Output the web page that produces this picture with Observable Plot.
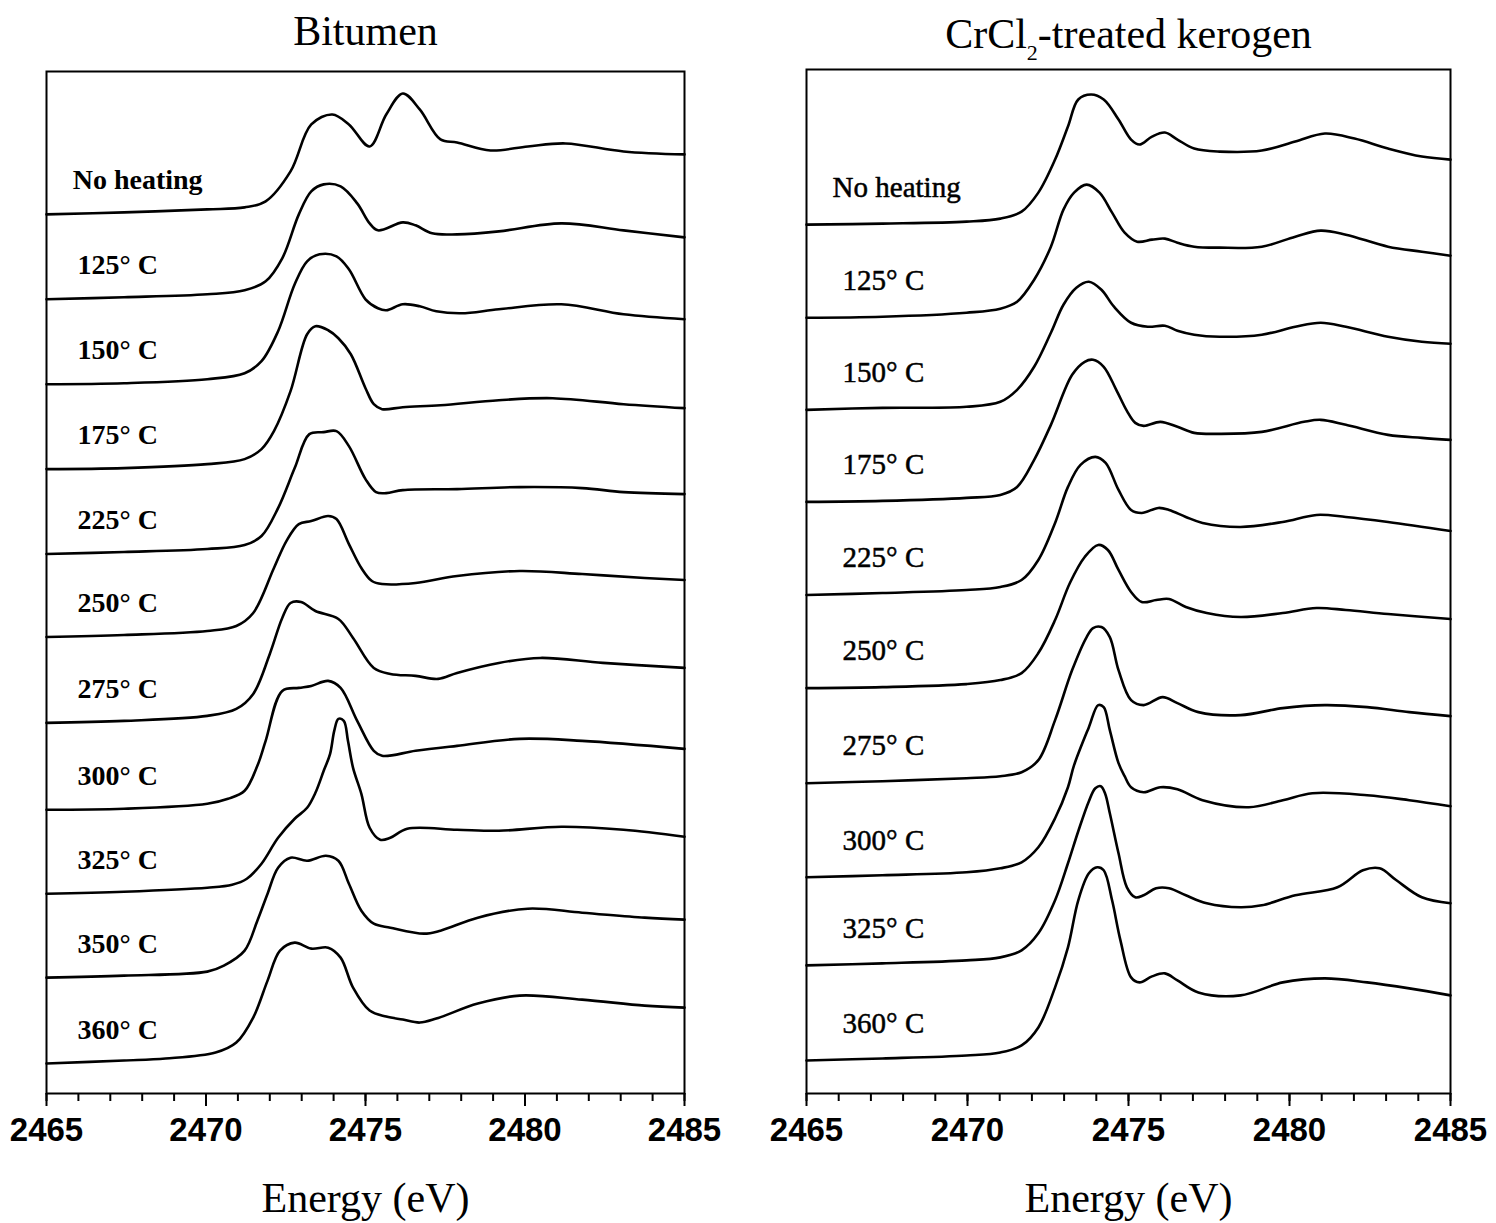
<!DOCTYPE html>
<html><head><meta charset="utf-8">
<script src="https://cdn.jsdelivr.net/npm/d3@7"></script>
<script src="https://cdn.jsdelivr.net/npm/@observablehq/plot@0.6"></script>
<style>body{margin:0;background:#fff}#chart{display:flex;width:1496px;height:1223px}</style>
</head><body><div id="chart"></div>
<script>
// ---- axis ticks ----
const energyMajorTicks = [2465, 2470, 2475, 2480, 2485];
const energyMinorTicks = [2465,2466,2467,2468,2469,2470,2471,2472,2473,2474,2475,2476,2477,2478,2479,2480,2481,2482,2483,2484,2485];

// ---- Bitumen (stacked normalized absorbance, [energy eV, value]) ----
const bitumenLabels = ["No heating","125° C","150° C","175° C","225° C","250° C","275° C","300° C","325° C","350° C","360° C"];
const bitNoHeat = [[2465.00,8.80],[2467.43,8.82],[2470.04,8.85],[2471.21,8.87],[2471.87,8.93],[2472.65,9.23],[2473.30,9.70],[2473.96,9.80],[2474.48,9.70],[2475.13,9.48],[2475.65,9.80],[2476.17,10.01],[2476.70,9.85],[2477.35,9.55],[2477.87,9.52],[2478.92,9.44],[2480.09,9.48],[2481.27,9.51],[2483.09,9.43],[2485.00,9.40]];
const bit125 = [[2465.00,7.95],[2467.43,7.97],[2470.04,8.00],[2471.21,8.04],[2471.87,8.13],[2472.39,8.36],[2472.91,8.80],[2473.30,9.03],[2473.69,9.10],[2474.22,9.08],[2474.74,8.91],[2475.13,8.71],[2475.39,8.64],[2476.17,8.72],[2476.57,8.69],[2477.09,8.61],[2477.87,8.60],[2479.18,8.63],[2481.14,8.71],[2483.09,8.64],[2485.00,8.57]];
const bit150 = [[2465.00,7.10],[2467.43,7.11],[2470.04,7.15],[2471.21,7.21],[2471.74,7.33],[2472.26,7.63],[2472.78,8.10],[2473.17,8.33],[2473.56,8.40],[2474.09,8.38],[2474.48,8.25],[2475.00,7.95],[2475.39,7.86],[2475.65,7.84],[2476.17,7.90],[2476.70,7.88],[2477.22,7.83],[2478.00,7.81],[2479.18,7.85],[2481.14,7.90],[2483.09,7.80],[2485.00,7.75]];
const bit175 = [[2465.00,6.25],[2467.43,6.26],[2470.04,6.30],[2471.21,6.35],[2471.74,6.45],[2472.13,6.63],[2472.65,7.03],[2473.17,7.60],[2473.43,7.68],[2473.83,7.64],[2474.15,7.56],[2474.54,7.40],[2475.00,7.06],[2475.26,6.90],[2475.52,6.85],[2476.17,6.87],[2477.35,6.89],[2479.18,6.94],[2480.87,6.96],[2483.09,6.90],[2485.00,6.86]];
const bit225 = [[2465.00,5.40],[2467.43,5.42],[2470.04,5.45],[2471.21,5.49],[2471.74,5.58],[2472.26,5.86],[2472.78,6.26],[2473.24,6.60],[2473.69,6.62],[2474.09,6.63],[2474.48,6.48],[2475.00,6.15],[2475.33,6.02],[2475.65,6.01],[2476.17,6.04],[2477.87,6.05],[2479.83,6.07],[2481.79,6.06],[2483.09,6.02],[2485.00,6.00]];
const bit250 = [[2465.00,4.57],[2467.43,4.59],[2470.04,4.63],[2470.95,4.68],[2471.48,4.81],[2472.13,5.26],[2472.52,5.53],[2472.91,5.70],[2473.30,5.73],[2473.83,5.78],[2474.09,5.75],[2474.48,5.50],[2474.87,5.26],[2475.20,5.13],[2475.52,5.10],[2476.57,5.11],[2477.87,5.18],[2479.83,5.23],[2481.79,5.20],[2483.75,5.16],[2485.00,5.14]];
const bit275 = [[2465.00,3.71],[2467.43,3.73],[2470.04,3.78],[2470.95,3.85],[2471.48,4.00],[2472.00,4.40],[2472.39,4.76],[2472.65,4.91],[2472.98,4.92],[2473.43,4.83],[2474.15,4.75],[2474.61,4.56],[2475.26,4.26],[2475.78,4.20],[2476.57,4.18],[2477.28,4.15],[2477.87,4.21],[2479.18,4.31],[2480.48,4.36],[2482.44,4.31],[2485.00,4.26]];
const bit300 = [[2465.00,2.84],[2467.43,2.85],[2470.04,2.90],[2470.69,2.95],[2471.21,3.03],[2471.61,3.28],[2471.87,3.53],[2472.39,4.03],[2472.91,4.06],[2473.30,4.08],[2473.83,4.13],[2474.22,4.06],[2474.74,3.73],[2475.26,3.43],[2475.52,3.38],[2476.57,3.43],[2477.87,3.48],[2479.83,3.55],[2481.79,3.53],[2485.00,3.45]];
const bit325 = [[2465.00,2.00],[2467.43,2.02],[2470.04,2.06],[2470.82,2.09],[2471.28,2.15],[2471.74,2.30],[2472.26,2.56],[2472.78,2.75],[2473.17,2.86],[2473.43,3.01],[2473.69,3.23],[2473.89,3.40],[2474.02,3.63],[2474.15,3.75],[2474.32,3.73],[2474.45,3.53],[2474.61,3.26],[2474.87,3.00],[2475.13,2.66],[2475.46,2.54],[2475.78,2.56],[2476.31,2.65],[2477.87,2.64],[2479.18,2.63],[2481.14,2.67],[2483.09,2.64],[2485.00,2.57]];
const bit350 = [[2465.00,1.16],[2467.43,1.18],[2470.04,1.22],[2470.56,1.28],[2471.21,1.43],[2471.61,1.73],[2471.93,2.00],[2472.26,2.26],[2472.65,2.36],[2473.17,2.33],[2473.76,2.38],[2474.15,2.33],[2474.48,2.10],[2474.87,1.83],[2475.26,1.70],[2475.78,1.66],[2476.83,1.60],[2477.35,1.63],[2478.52,1.76],[2480.09,1.85],[2481.79,1.81],[2483.75,1.76],[2485.00,1.74]];
const bit360 = [[2465.00,0.30],[2467.43,0.33],[2468.73,0.35],[2470.30,0.41],[2470.95,0.51],[2471.48,0.76],[2471.93,1.13],[2472.32,1.43],[2472.78,1.51],[2473.30,1.45],[2473.83,1.46],[2474.22,1.36],[2474.61,1.06],[2475.13,0.83],[2475.65,0.77],[2476.17,0.74],[2476.70,0.71],[2477.22,0.75],[2478.52,0.90],[2479.83,0.98],[2481.79,0.94],[2483.75,0.88],[2485.00,0.86]];

// ---- CrCl2-treated kerogen ----
const kerogenLabels = ["No heating","125° C","150° C","175° C","225° C","250° C","275° C","300° C","325° C","360° C"];
const kerNoHeat = [[2465.00,8.68],[2467.36,8.69],[2469.97,8.71],[2471.02,8.74],[2471.68,8.81],[2472.20,9.00],[2472.72,9.33],[2473.12,9.66],[2473.44,9.93],[2473.84,9.98],[2474.23,9.93],[2474.69,9.73],[2475.08,9.53],[2475.34,9.48],[2475.73,9.56],[2476.13,9.60],[2476.52,9.53],[2477.04,9.44],[2477.83,9.41],[2479.14,9.42],[2480.18,9.51],[2481.10,9.59],[2482.02,9.54],[2483.06,9.44],[2484.11,9.36],[2485.00,9.33]];
const ker125 = [[2465.00,7.75],[2467.36,7.76],[2469.97,7.80],[2471.02,7.84],[2471.54,7.91],[2472.07,8.13],[2472.59,8.46],[2472.98,8.83],[2473.31,9.00],[2473.70,9.08],[2474.10,9.00],[2474.49,8.80],[2474.88,8.60],[2475.27,8.51],[2475.73,8.53],[2476.13,8.54],[2476.52,8.50],[2477.04,8.46],[2477.83,8.45],[2479.14,8.46],[2480.18,8.56],[2480.97,8.62],[2481.75,8.58],[2483.06,8.46],[2484.11,8.41],[2485.00,8.37]];
const ker150 = [[2465.00,6.83],[2467.36,6.85],[2469.97,6.86],[2471.02,6.91],[2471.54,7.03],[2472.07,7.26],[2472.59,7.60],[2472.98,7.88],[2473.38,8.05],[2473.77,8.11],[2474.16,8.03],[2474.55,7.86],[2475.08,7.70],[2475.60,7.66],[2476.13,7.67],[2476.52,7.62],[2477.04,7.58],[2477.83,7.56],[2479.14,7.58],[2480.18,7.66],[2480.97,7.70],[2481.75,7.66],[2483.06,7.56],[2484.11,7.51],[2485.00,7.49]];
const ker175 = [[2465.00,5.91],[2467.36,5.92],[2469.97,5.95],[2471.02,5.98],[2471.54,6.06],[2472.07,6.33],[2472.59,6.68],[2473.25,7.18],[2473.64,7.31],[2473.90,7.33],[2474.23,7.26],[2474.62,7.03],[2474.95,6.82],[2475.21,6.70],[2475.47,6.67],[2475.99,6.71],[2476.52,6.66],[2477.04,6.60],[2477.83,6.59],[2479.14,6.61],[2480.45,6.71],[2480.97,6.73],[2481.75,6.68],[2483.06,6.58],[2484.11,6.55],[2485.00,6.53]];
const ker225 = [[2465.00,4.98],[2467.36,5.00],[2469.97,5.03],[2471.02,5.06],[2471.68,5.13],[2472.20,5.33],[2472.72,5.70],[2473.12,6.06],[2473.51,6.28],[2473.97,6.36],[2474.29,6.30],[2474.69,6.03],[2475.08,5.83],[2475.41,5.80],[2475.93,5.85],[2476.26,5.83],[2476.78,5.76],[2477.30,5.70],[2478.48,5.66],[2479.79,5.71],[2480.84,5.78],[2481.75,5.76],[2483.06,5.71],[2485.00,5.62]];
const ker250 = [[2465.00,4.05],[2467.36,4.06],[2469.97,4.09],[2471.02,4.13],[2471.68,4.20],[2472.20,4.40],[2472.72,4.73],[2473.18,5.10],[2473.64,5.36],[2474.06,5.48],[2474.36,5.43],[2474.69,5.23],[2475.08,5.01],[2475.41,4.91],[2475.86,4.93],[2476.26,4.94],[2476.78,4.86],[2477.43,4.80],[2478.48,4.76],[2479.79,4.80],[2480.84,4.85],[2481.75,4.83],[2483.06,4.79],[2485.00,4.74]];
const ker275 = [[2465.00,3.10],[2467.36,3.12],[2469.97,3.15],[2471.02,3.17],[2471.68,3.21],[2472.20,3.33],[2472.72,3.73],[2473.25,4.23],[2473.70,4.56],[2473.90,4.65],[2474.16,4.66],[2474.42,4.56],[2474.69,4.23],[2475.08,3.93],[2475.47,3.88],[2476.06,3.96],[2476.52,3.90],[2477.17,3.81],[2478.48,3.78],[2479.79,3.85],[2481.10,3.88],[2482.41,3.86],[2483.72,3.81],[2485.00,3.77]];
const ker300 = [[2465.00,2.16],[2467.36,2.18],[2469.97,2.21],[2471.02,2.25],[2471.68,2.31],[2472.20,2.46],[2472.72,2.75],[2473.12,3.06],[2473.31,3.28],[2473.77,3.66],[2474.06,3.88],[2474.23,3.86],[2474.42,3.63],[2474.69,3.30],[2474.88,3.17],[2475.08,3.06],[2475.47,3.01],[2475.99,3.06],[2476.52,3.04],[2477.30,2.93],[2478.74,2.86],[2479.79,2.93],[2480.71,3.00],[2482.41,2.98],[2483.72,2.93],[2485.00,2.87]];
const ker325 = [[2465.00,1.28],[2467.36,1.30],[2469.97,1.33],[2471.02,1.36],[2471.68,1.43],[2472.20,1.60],[2472.72,1.93],[2473.12,2.30],[2473.44,2.62],[2473.77,2.92],[2473.97,3.05],[2474.14,3.07],[2474.27,3.00],[2474.42,2.80],[2474.69,2.40],[2474.95,2.06],[2475.21,1.96],[2475.47,1.98],[2475.86,2.05],[2476.26,2.05],[2476.78,1.98],[2477.43,1.90],[2478.48,1.86],[2479.14,1.88],[2480.18,1.98],[2481.49,2.06],[2482.28,2.23],[2482.80,2.25],[2483.32,2.13],[2484.11,1.96],[2485.00,1.90]];
const ker360 = [[2465.00,0.33],[2467.36,0.35],[2469.97,0.38],[2471.02,0.41],[2471.68,0.48],[2472.20,0.66],[2472.72,1.06],[2473.12,1.46],[2473.44,1.93],[2473.77,2.20],[2474.03,2.26],[2474.23,2.23],[2474.49,1.93],[2474.75,1.53],[2475.08,1.16],[2475.34,1.11],[2475.73,1.17],[2476.13,1.20],[2476.52,1.13],[2477.17,1.01],[2478.48,0.98],[2479.79,1.11],[2481.10,1.15],[2482.41,1.11],[2483.72,1.05],[2485.00,0.98]];

const bitumenSeries = [bitNoHeat, bit125, bit150, bit175, bit225, bit250, bit275, bit300, bit325, bit350, bit360];
const kerogenSeries = [kerNoHeat, ker125, ker150, ker175, ker225, ker250, ker275, ker300, ker325, ker360];

function panel(opts) {
  const rows = opts.series.flatMap((s, i) => s.map(([e, v]) => ({e, v, k: opts.labels[i]})));
  const labelRows = opts.labels.map((t, i) => ({t, e: i === 0 ? opts.firstLabelX : opts.labelX, v: opts.series[i][0][1] + opts.labelLift}));
  return Plot.plot({
    width: 748, height: 1223,
    marginLeft: opts.marginLeft, marginRight: opts.marginRight, marginTop: opts.marginTop, marginBottom: 130,
    style: {fontFamily: "'Liberation Sans', Arial, sans-serif", fontWeight: "bold", background: "#fff", overflow: "visible"},
    x: {domain: [2465, 2485]},
    y: {domain: [0, 10.23], axis: null},
    marks: [
      Plot.frame({stroke: "black", strokeWidth: 2}),
      Plot.line(rows, {x: "e", y: "v", z: "k", curve: "catmull-rom", stroke: "black", strokeWidth: 2.6}),
      Plot.text(labelRows, {x: "e", y: "v", text: "t", textAnchor: "start", lineAnchor: "middle",
        fontFamily: "'Liberation Serif', 'Times New Roman', serif", fontSize: opts.labelSize, fontWeight: opts.labelWeight,
        fill: "black", stroke: "black", strokeWidth: opts.labelStroke}),
      Plot.axisX(energyMinorTicks, {tickSize: 8, strokeWidth: 2, tickFormat: () => "", label: null}),
      Plot.axisX(energyMajorTicks, {tickSize: 13, tickPadding: 11, strokeWidth: 2, fontSize: 33, fontWeight: "bold",
        tickFormat: d => String(d), label: null}),
      Plot.text([opts.title], {frameAnchor: "top", dy: opts.titleDy, fontSize: 42, fontWeight: "normal",
        fontFamily: "'Liberation Serif', 'Times New Roman', serif", lineAnchor: "middle"}),
      Plot.text(["Energy (eV)"], {frameAnchor: "bottom", dy: 105, fontSize: 42, fontWeight: "normal",
        fontFamily: "'Liberation Serif', 'Times New Roman', serif", lineAnchor: "middle"})
    ]
  });
}

const left = panel({title: "Bitumen", labels: bitumenLabels, series: bitumenSeries,
  marginLeft: 46, marginRight: 64, marginTop: 71, labelX: 2465.97, firstLabelX: 2465.82, labelLift: 0.34,
  labelSize: 28, labelWeight: "bold", labelStroke: 0, titleDy: -40});
const right = panel({title: "CrCl2-treated kerogen", labels: kerogenLabels, series: kerogenSeries,
  marginLeft: 58, marginRight: 46, marginTop: 69, labelX: 2466.12, firstLabelX: 2465.81, labelLift: 0.37,
  labelSize: 29, labelWeight: "normal", labelStroke: 0.5, titleDy: -35});

document.getElementById("chart").append(left, right);

// subscript the 2 in CrCl2
right.querySelectorAll("text").forEach(t => {
  if (t.textContent === "CrCl2-treated kerogen") {
    const ns = "http://www.w3.org/2000/svg";
    t.textContent = "";
    const a = document.createElementNS(ns, "tspan"); a.textContent = "CrCl";
    const b = document.createElementNS(ns, "tspan"); b.textContent = "2"; b.setAttribute("dy", "12"); b.setAttribute("font-size", "22");
    const c = document.createElementNS(ns, "tspan"); c.textContent = "-treated kerogen"; c.setAttribute("dy", "-12");
    t.append(a, b, c);
  }
});
</script></body></html>
